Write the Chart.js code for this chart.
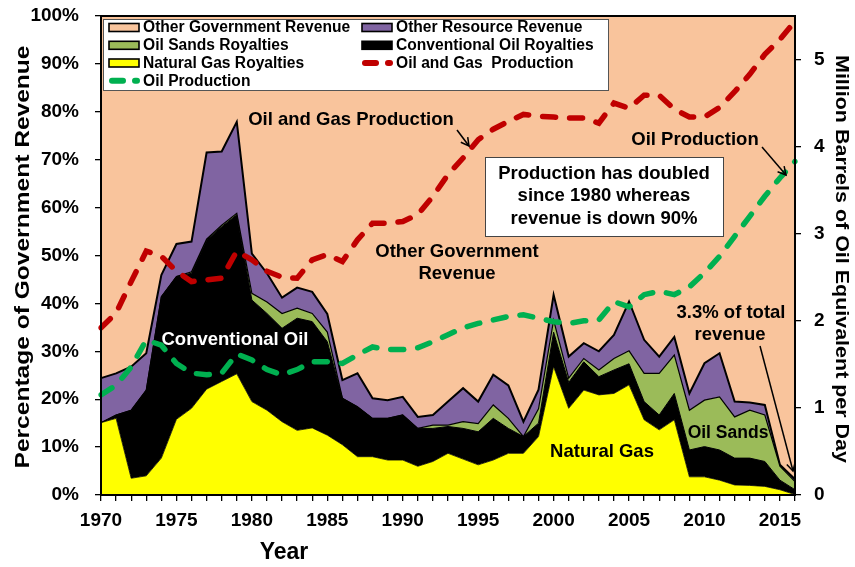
<!DOCTYPE html>
<html>
<head>
<meta charset="utf-8">
<script src="https://cdn.jsdelivr.net/npm/chart.js@4/dist/chart.umd.min.js"></script>
<style>
  html, body { margin: 0; padding: 0; background: #fff; }
  #wrap { width: 855px; height: 567px; }
</style>
</head>
<body>
<div id="wrap"><canvas id="c" width="855" height="567"></canvas></div>
<script>
// Alberta government revenue by source (% of total) and production (million boe/d)
const years = [1970,1971,1972,1973,1974,1975,1976,1977,1978,1979,
               1980,1981,1982,1983,1984,1985,1986,1987,1988,1989,
               1990,1991,1992,1993,1994,1995,1996,1997,1998,1999,
               2000,2001,2002,2003,2004,2005,2006,2007,2008,2009,
               2010,2011,2012,2013,2014,2015,2016];

const naturalGas = [15.1,16.0,3.5,4.0,7.7,15.8,18.1,22.1,23.7,25.3,
                    19.5,17.7,15.3,13.5,14.0,12.5,10.5,8.0,8.0,7.3,
                    7.3,6.0,7.0,8.7,7.5,6.3,7.3,8.7,8.7,12.2,
                    26.8,18.1,21.9,20.9,21.2,23.0,15.7,13.6,15.7,3.8,
                    3.8,3.1,2.1,2.0,1.8,1.1,0.1];

const conventionalOil = [0,0.7,14.2,17.9,33.7,29.8,28.2,31.1,32.3,33.2,
                         21.2,20.2,19.5,23.4,22.2,19.5,9.7,10.4,8.0,8.7,
                         9.4,7.9,6.9,5.6,6.4,6.9,8.7,5.2,3.5,2.8,
                         7.2,5.4,5.9,3.8,4.9,4.4,3.8,3.1,5.5,5.6,
                         6.3,6.3,5.6,5.7,5.2,2.0,1.0];

const oilSands = [0,0,0,0,0,0,0.3,0.2,0.3,0.3,
                  1.4,2.4,3.1,2.1,1.7,2.0,0,0,0,0,
                  0,0,0.7,0.3,1.4,1.7,2.8,2.1,0,3.0,
                  2.5,0.9,0.7,1.4,2.4,2.7,5.9,8.7,8.0,8.3,
                  9.7,11.1,8.6,10.0,9.7,2.9,1.7];

const otherResource = [9.3,8.7,9.1,7.7,4.5,6.8,6.3,18.1,15.4,19.1,
                       8.3,6.0,3.3,4.3,4.5,3.8,3.8,7.0,4.2,3.8,
                       3.8,2.4,2.1,4.9,7.0,4.6,6.3,6.9,3.1,4.0,
                       5.3,4.5,3.2,3.9,4.9,10.3,7.0,3.5,3.8,3.5,
                       7.7,9.1,3.2,1.6,2.1,0.3,0.5];

const otherGovernment = [75.6,74.6,73.2,70.4,54.1,47.6,47.1,28.5,28.3,22.1,
                         49.6,53.7,58.8,56.7,57.6,62.2,76.0,74.6,79.8,80.2,
                         79.5,83.7,83.3,80.5,77.7,80.5,74.9,77.1,84.7,78.0,
                         58.2,71.1,68.3,70.0,66.6,59.6,67.6,71.1,67.0,78.8,
                         72.5,70.4,80.5,80.7,81.2,93.7,96.7];

const oilGasProduction = [1.92,2.09,2.45,2.80,2.74,2.57,2.45,2.47,2.49,2.80,
                          2.70,2.57,2.50,2.49,2.70,2.76,2.68,2.93,3.12,3.12,
                          3.14,3.22,3.43,3.68,3.87,4.08,4.20,4.29,4.37,4.35,
                          4.34,4.33,4.33,4.27,4.50,4.44,4.59,4.59,4.43,4.34,
                          4.34,4.45,4.63,4.83,5.06,5.23,5.44];

const oilProduction = [1.15,1.26,1.47,1.78,1.72,1.51,1.40,1.38,1.40,1.62,
                       1.55,1.44,1.38,1.44,1.53,1.53,1.51,1.61,1.70,1.67,
                       1.67,1.69,1.76,1.84,1.92,1.97,2.01,2.05,2.07,2.03,
                       1.99,1.97,2.00,2.01,2.22,2.16,2.30,2.34,2.30,2.39,
                       2.55,2.74,2.97,3.20,3.43,3.64,3.83];

const percentTicks = [0,10,20,30,40,50,60,70,80,90,100];
const barrelTicks = [0,1,2,3,4,5];

const FONT = "'Liberation Sans', Arial, Helvetica, sans-serif";
Chart.defaults.font.family = FONT;
Chart.defaults.font.weight = 'bold';
Chart.defaults.color = '#000';

function arrow(ctx, x1, y1, x2, y2, head) {
  ctx.beginPath(); ctx.moveTo(x1, y1); ctx.lineTo(x2, y2); ctx.stroke();
  const a = Math.atan2(y2 - y1, x2 - x1);
  ctx.beginPath();
  ctx.moveTo(x2 - head * Math.cos(a - 0.5), y2 - head * Math.sin(a - 0.5));
  ctx.lineTo(x2, y2);
  ctx.lineTo(x2 - head * Math.cos(a + 0.5), y2 - head * Math.sin(a + 0.5));
  ctx.stroke();
}

// text drawn rotated and stretched along its length to a given span
function rotatedText(ctx, text, cx, cy, angle, size, span) {
  ctx.save();
  ctx.font = 'bold ' + size + 'px ' + FONT;
  const w = ctx.measureText(text).width;
  ctx.translate(cx, cy);
  ctx.rotate(angle);
  ctx.scale(span / w, 1);
  ctx.textAlign = 'center';
  ctx.textBaseline = 'middle';
  ctx.fillStyle = '#000';
  ctx.fillText(text, 0, 0);
  ctx.restore();
}

const frameAndNotes = {
  id: 'frameAndNotes',
  afterDatasetsDraw(chart) {
    const ctx = chart.ctx;
    const a = chart.chartArea;
    ctx.save();
    ctx.strokeStyle = '#000';
    ctx.lineWidth = 2;
    ctx.strokeRect(a.left, a.top, a.right - a.left, a.bottom - a.top);

    ctx.fillStyle = '#000';
    ctx.textAlign = 'center';
    ctx.textBaseline = 'middle';
    ctx.lineWidth = 1.5;

    ctx.font = 'bold 18.5px ' + FONT;
    ctx.fillText('Oil and Gas Production', 351, 120);
    arrow(ctx, 457, 130, 469, 146, 9);

    ctx.fillStyle = '#fff';
    ctx.fillRect(485, 157, 238, 79);
    ctx.strokeStyle = '#444';
    ctx.lineWidth = 1;
    ctx.strokeRect(485.5, 157.5, 238, 79);
    ctx.fillStyle = '#000';
    ctx.font = 'bold 18.5px ' + FONT;
    ctx.fillText('Production has doubled', 604, 174);
    ctx.fillText('since 1980 whereas', 604, 196);
    ctx.fillText('revenue is down 90%', 604, 219);

    ctx.fillText('Other Government', 457, 252);
    ctx.fillText('Revenue', 457, 274);

    ctx.fillText('Oil Production', 695, 140);
    ctx.strokeStyle = '#000';
    ctx.lineWidth = 1.5;
    arrow(ctx, 762, 147, 786, 175, 9);

    ctx.fillText('3.3% of total', 731, 313);
    ctx.fillText('revenue', 730, 335);
    arrow(ctx, 760, 346, 793, 471, 9);

    ctx.fillText('Natural Gas', 602, 452);
    ctx.font = 'bold 17.5px ' + FONT;
    ctx.fillText('Oil Sands', 728, 433);
    ctx.fillStyle = '#fff';
    ctx.font = 'bold 18.5px ' + FONT;
    ctx.fillText('Conventional Oil', 235, 340);
    ctx.restore();
  },
  afterDraw(chart) {
    const ctx = chart.ctx;
    const ds = chart.data.datasets;
    ctx.save();
    // legend panel
    ctx.fillStyle = '#fff';
    ctx.fillRect(103, 19, 505, 71);
    ctx.strokeStyle = '#555';
    ctx.lineWidth = 1;
    ctx.strokeRect(103.5, 19.5, 505, 71);

    const order = [4, 3, 2, 1, 0, 5, 6];
    const colX = [109, 362];
    const rowY = [27.5, 45.3, 63, 80.8];
    ctx.font = 'bold 15.6px ' + FONT;
    ctx.textBaseline = 'middle';
    ctx.textAlign = 'left';
    order.forEach((di, k) => {
      const d = ds[di];
      const x = colX[k % 2];
      const y = rowY[Math.floor(k / 2)];
      if (d.fill !== false) {
        ctx.fillStyle = d.backgroundColor;
        ctx.fillRect(x, y - 4, 30, 8);
        ctx.strokeStyle = '#000';
        ctx.lineWidth = 1.6;
        ctx.strokeRect(x, y - 4, 30, 8);
      } else {
        ctx.strokeStyle = d.borderColor;
        ctx.lineWidth = 6;
        ctx.lineCap = 'round';
        ctx.beginPath(); ctx.moveTo(x + 3, y); ctx.lineTo(x + 14, y); ctx.stroke();
        ctx.beginPath(); ctx.moveTo(x + 26, y); ctx.lineTo(x + 28, y); ctx.stroke();
        ctx.lineCap = 'butt';
      }
      ctx.fillStyle = '#000';
      ctx.fillText(d.label, x + 34, y + 0.5);
    });

    // axis titles
    rotatedText(ctx, 'Percentage of Government Revenue', 23, 257, -Math.PI / 2, 20, 423);
    rotatedText(ctx, 'Million Barrels of Oil Equivalent per Day', 841, 259, Math.PI / 2, 18.5, 408);
    ctx.font = 'bold 23px ' + FONT;
    ctx.textAlign = 'center';
    ctx.fillStyle = '#000';
    ctx.fillText('Year', 284, 553);
    ctx.restore();
  }
};

// vertical axes: fixed width, no extra end padding from the tick labels
function fitVertical(width) {
  return s => { s.width = width; s.paddingTop = 0; s.paddingBottom = 0; };
}

const areaBase = { pointRadius: 0, tension: 0, borderColor: '#000', yAxisID: 'y', order: 1 };
const lineBase = { pointRadius: 0, tension: 0, fill: false, yAxisID: 'y1', order: 0,
                   borderWidth: 5.5, borderDash: [13, 14], borderCapStyle: 'round' };

new Chart(document.getElementById('c'), {
  type: 'line',
  data: {
    labels: years,
    datasets: [
      Object.assign({}, areaBase, { label: 'Natural Gas Royalties', data: naturalGas, fill: 'origin',
        backgroundColor: '#FFFF00', borderWidth: 0.8 }),
      Object.assign({}, areaBase, { label: 'Conventional Oil Royalties', data: conventionalOil, fill: '-1',
        backgroundColor: '#000000', borderWidth: 1 }),
      Object.assign({}, areaBase, { label: 'Oil Sands Royalties', data: oilSands, fill: '-1',
        backgroundColor: '#9BBB59', borderWidth: 1.2 }),
      Object.assign({}, areaBase, { label: 'Other Resource Revenue', data: otherResource, fill: '-1',
        backgroundColor: '#8064A2', borderWidth: 2 }),
      Object.assign({}, areaBase, { label: 'Other Government Revenue', data: otherGovernment, fill: '-1',
        backgroundColor: '#F9C49C', borderWidth: 0 }),
      Object.assign({}, lineBase, { label: 'Oil and Gas  Production', data: oilGasProduction,
        borderColor: '#C00000' }),
      Object.assign({}, lineBase, { label: 'Oil Production', data: oilProduction,
        borderColor: '#00B050' })
    ]
  },
  options: {
    responsive: false,
    animation: false,
    devicePixelRatio: 1,
    layout: { padding: { top: 16, left: 0, right: 0, bottom: 0 } },
    plugins: { legend: { display: false }, tooltip: { enabled: false } },
    scales: {
      x: {
        type: 'category',
        offset: false,
        afterFit: s => { s.height = 72; s.paddingLeft = 0; s.paddingRight = 0; },
        border: { display: false },
        grid: { drawOnChartArea: false, drawTicks: true, tickLength: 6, color: '#000', lineWidth: 1.3, offset: false },
        ticks: {
          autoSkip: false, maxRotation: 0, minRotation: 0, padding: 8,
          font: { size: 19, weight: 'bold' },
          callback: function (v, i) { return years[i] % 5 === 0 ? String(years[i]) : ''; }
        }
      },
      y: {
        stacked: true,
        position: 'left',
        min: 0, max: 100,
        afterFit: fitVertical(101),
        afterBuildTicks: s => { s.ticks = percentTicks.map(v => ({ value: v })); },
        border: { display: false },
        grid: { drawOnChartArea: false, tickLength: 6, color: '#000', lineWidth: 1.3 },
        ticks: { padding: 16, font: { size: 19, weight: 'bold' }, callback: v => v + '%' }
      },
      y1: {
        position: 'right',
        min: 0, max: 5.5,
        afterFit: fitVertical(60),
        afterBuildTicks: s => { s.ticks = barrelTicks.map(v => ({ value: v })); },
        border: { display: false },
        grid: { drawOnChartArea: false, tickLength: 6, color: '#000', lineWidth: 1.3 },
        ticks: { padding: 13, font: { size: 19, weight: 'bold' } }
      }
    }
  },
  plugins: [frameAndNotes]
});
</script>
</body>
</html>
